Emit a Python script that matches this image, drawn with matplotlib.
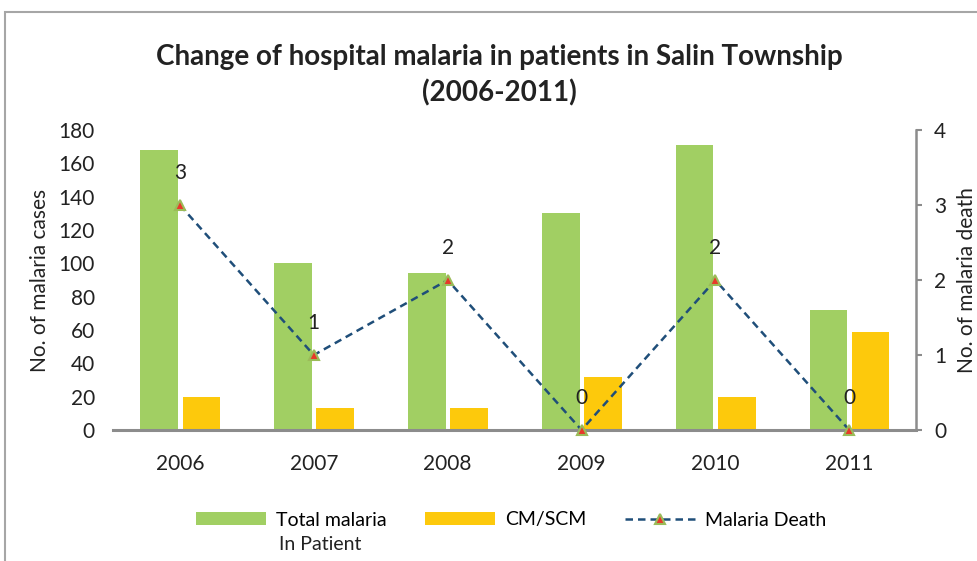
import matplotlib.pyplot as plt
import matplotlib.patches as mpatches
import numpy as np

# Data
years = ['2006', '2007', '2008', '2009', '2010', '2011']
total_inpatient = [168, 100, 94, 130, 171, 72]
cm_scm = [20, 13, 13, 32, 20, 59]
deaths = [3, 1, 2, 0, 2, 0]

plt.rcParams['font.family'] = ['Lato', 'DejaVu Sans']
txt = '#222222'

fig = plt.figure(figsize=(9.77, 5.61), dpi=100)
ax = fig.add_axes([0.1157, 0.2335, 0.822, 0.5345])

# outer chart border (partly off the image)
fig.patches.append(mpatches.Rectangle((5 / 977, -0.05), 1.1, 1 - 12 / 561 + 0.05,
                                      transform=fig.transFigure, fill=False,
                                      edgecolor='#A6A6A6', linewidth=1.5))

x = np.arange(len(years))
w = 0.28
ax.bar(x - 0.155, total_inpatient, w, color='#A1CF63', label='Total malaria')
ax.bar(x + 0.16, cm_scm, w, color='#FDC90C', label='CM/SCM')

ax.set_xlim(-0.5, 5.5)
ax.set_ylim(0, 180)
ax.set_yticks(range(0, 181, 20))
ax.set_xticks(x)
ax.set_xticklabels(years)
ax.tick_params(axis='both', length=0, labelsize=15, colors=txt)
ax.tick_params(axis='x', pad=17)
ax.tick_params(axis='y', pad=13)
for s in ['top', 'right', 'left']:
    ax.spines[s].set_visible(False)
ax.spines['bottom'].set_color('#8C8C8C')
ax.spines['bottom'].set_linewidth(2.2)
ax.set_ylabel('No. of malaria cases', fontsize=15, color=txt, labelpad=6)

ax2 = ax.twinx()
ax2.plot(x, deaths, linestyle='--', color='#1F4E79', linewidth=1.8, dashes=(3, 2),
         marker='^', markersize=7, markerfacecolor='#E8382A',
         markeredgecolor='#9BBB59', markeredgewidth=1.5, label='Malaria Death',
         clip_on=False, zorder=5)
for xi, d in zip(x, deaths):
    ax2.annotate(str(d), (xi, d), textcoords='offset points', xytext=(0, 23),
                 ha='center', va='center', fontsize=15, color=txt)
ax2.set_ylim(0, 4)
ax2.set_yticks(range(0, 5))
for s in ['top', 'left', 'bottom']:
    ax2.spines[s].set_visible(False)
ax2.spines['right'].set_color('#8C8C8C')
ax2.spines['right'].set_linewidth(1.8)
ax2.tick_params(axis='y', length=4, width=1.5, color='#8C8C8C', labelsize=15,
                labelcolor=txt, pad=9)
ax2.set_ylabel('No. of malaria death', fontsize=15, color=txt, labelpad=8)

fig.text(0.511, 1 - 57 / 561, 'Change of hospital malaria in patients in Salin Township',
         ha='center', va='center', fontsize=20, fontweight='bold', color=txt)
fig.text(0.511, 1 - 93 / 561, '(2006-2011)',
         ha='center', va='center', fontsize=20, fontweight='bold', color=txt)

h1, l1 = ax.get_legend_handles_labels()
h2, l2 = ax2.get_legend_handles_labels()
leg = fig.legend(h1 + h2, l1 + l2, loc='center', bbox_to_anchor=(0.523, 1 - 520 / 561),
                 ncol=3, frameon=False, fontsize=14, handlelength=3.6,
                 columnspacing=2.0, handletextpad=0.5, handleheight=0.6)

# second line of the first legend entry, placed under its label
fig.canvas.draw()
bb = leg.get_texts()[0].get_window_extent().transformed(fig.transFigure.inverted())
fig.text(bb.x0 + 3 / 977, bb.y0 - 25 / 561 + (bb.y1 - bb.y0) / 2, 'In Patient',
         ha='left', va='center', fontsize=14, color=txt)

fig.savefig('out.png', dpi=100)
